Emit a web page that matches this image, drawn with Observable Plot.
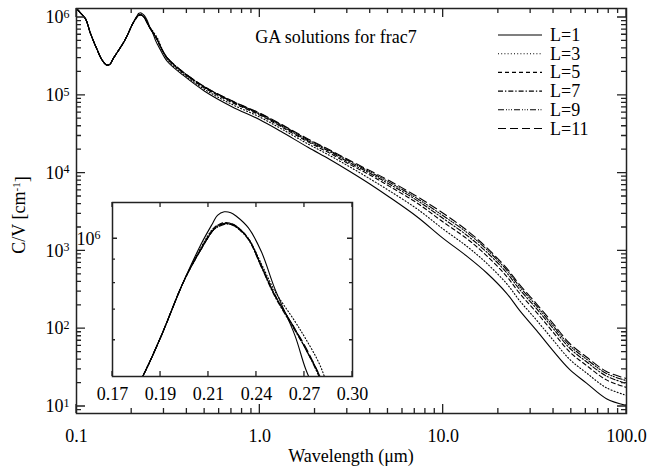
<!DOCTYPE html>
<html><head><meta charset="utf-8">
<script src="https://cdn.jsdelivr.net/npm/d3@7"></script>
<script src="https://cdn.jsdelivr.net/npm/@observablehq/plot@0.6"></script>
<style>
body{margin:0;background:#fff}
#wrap{position:relative;width:663px;height:466px}
#wrap > svg{position:absolute;overflow:visible}
#ticks{position:absolute;left:0;top:0;width:663px;height:466px;z-index:10;pointer-events:none}
</style>
</head><body><div id="wrap"></div>
<script>
// ---- data ----
const wavelength = [0.100,0.105,0.112,0.119,0.125,0.130,0.135,0.140,0.146,0.152,0.159,0.166,0.174,0.1826,0.1906,0.2014,
  0.2098,0.2155,0.218,0.2215,0.225,0.228,0.2346,0.242,0.2496,0.2619,0.2686,0.2773,0.285,0.313,0.383,0.5,0.7,1.0,1.3,1.83,2.41,3.1,4.0,5.1,7.2,10,13.5,17.3,22.2,26.1,32.3,39.5,48.9,60.5,77.7,100];
// first 16 points: all solutions coincide
const sharedUV = [1.30e6,1.15e6,9.6e5,6.3e5,4.7e5,3.8e5,3.1e5,2.7e5,2.45e5,2.5e5,3.0e5,3.5e5,4.15e5,5.0e5,6.1e5,8.1e5];
const tailL1  = [9.75e5,1.08e6,1.125e6,1.145e6,1.14e6,1.12e6,1.056e6,9.35e5,7.8e5,6.15e5,5.2e5,4.45e5,3.95e5,2.72e5,1.8e5,1.13e5,7.2e4,4.85e4,3.45e4,2.15e4,1.5e4,1.05e4,7.2e3,4.9e3,2.75e3,1.45e3,850,520,285,172,95,53,30,20,12.6,10.3];
const tailL3  = [9.6e5,1.05e6,1.07e6,1.08e6,1.075e6,1.06e6,1.0e6,8.8e5,7.7e5,6.6e5,6.05e5,5.35e5,4.6e5,2.88e5,1.87e5,1.19e5,7.7e4,5.25e4,3.75e4,2.37e4,1.68e4,1.2e4,8.4e3,5.9e3,3.47e3,1.91e3,1.14e3,692,379,230,129,73,40.5,27,17.4,13.9];
const tailL5  = [9.55e5,1.045e6,1.07e6,1.085e6,1.08e6,1.065e6,1.0e6,8.7e5,7.55e5,6.35e5,5.75e5,5.05e5,4.35e5,2.97e5,1.94e5,1.24e5,8.15e4,5.55e4,3.97e4,2.52e4,1.8e4,1.29e4,9.4e3,6.75e3,4.13e3,2.35e3,1.43e3,863,470,286,162,92,50.5,33.7,22.0,17.6];
const tailL7  = [9.5e5,1.04e6,1.065e6,1.08e6,1.075e6,1.06e6,0.995e6,8.65e5,7.5e5,6.3e5,5.75e5,5.0e5,4.35e5,3.0e5,1.96e5,1.27e5,8.35e4,5.7e4,4.1e4,2.6e4,1.88e4,1.35e4,9.9e3,7.2e3,4.46e3,2.61e3,1.58e3,962,524,320,181,103,56.5,37.6,24.6,19.8];
const tailL9  = [9.5e5,1.04e6,1.06e6,1.075e6,1.075e6,1.06e6,1.0e6,8.7e5,7.55e5,6.35e5,5.75e5,5.05e5,4.37e5,3.02e5,1.98e5,1.28e5,8.5e4,5.8e4,4.2e4,2.69e4,1.94e4,1.41e4,1.03e4,7.6e3,4.73e3,2.83e3,1.72e3,1.04e3,567,347,196,111,61,40.6,26.6,21.5];
const tailL11 = [9.5e5,1.04e6,1.065e6,1.08e6,1.08e6,1.065e6,1.0e6,8.7e5,7.55e5,6.35e5,5.8e5,5.05e5,4.4e5,3.05e5,1.98e5,1.29e5,8.55e4,5.9e4,4.28e4,2.75e4,1.98e4,1.45e4,1.07e4,7.95e3,5.0e3,3.05e3,1.83e3,1.1e3,599,368,209,119,65,43.3,28.2,22.9];
const seriesNames = ["L=1","L=3","L=5","L=7","L=9","L=11"];
const seriesTails = [tailL1,tailL3,tailL5,tailL7,tailL9,tailL11];

const xMajorTicks = [0.1,1,10,100];
const xMajorLabels = ["0.1","1.0","10.0","100.0"];
const xMinorTicks = [0.2,0.3,0.4,0.5,0.6,0.7,0.8,0.9,2,3,4,5,6,7,8,9,20,30,40,50,60,70,80,90];
const yMajorTicks = [10,100,1e3,1e4,1e5,1e6];
const yMinorTicks = [9,20,30,40,50,60,70,80,90,200,300,400,500,600,700,800,900,2e3,3e3,4e3,5e3,6e3,7e3,8e3,9e3,2e4,3e4,4e4,5e4,6e4,7e4,8e4,9e4,2e5,3e5,4e5,5e5,6e5,7e5,8e5,9e5];
const insetXTicks = [0.170,0.1905,0.2134,0.2391,0.2679,0.3002];
const insetXLabels = ["0.17","0.19","0.21","0.24","0.27","0.30"];
const insetYMajor = [1e6];
const insetYMinor = [6e5,7e5,8e5,9e5];
const titleText = "GA solutions for frac7";
const xTitle = "Wavelength (\u03bcm)";

// ---- styles ----
const dashStyles = [null,"1,2.2","4,3","5,2,1.3,2","6,2,1,1.5,1,1.5,1,2","8,4"];
const FONT = "Liberation Serif";
const FS = 18;
const AX = "#222";

const rows = seriesNames.map((name, s) =>
  wavelength.map((lam, i) => ({name, lam, v: i < sharedUV.length ? sharedUV[i] : seriesTails[s][i - sharedUV.length]})));

const xLabelMap = new Map(xMajorTicks.map((t, i) => [t, xMajorLabels[i]]));
const insetLabelMap = new Map(insetXTicks.map((t, i) => [t, insetXLabels[i]]));

function supFix(svg, supSize) {
  d3.select(svg).selectAll("text").each(function() {
    const t = this.textContent;
    if (!t.includes("^")) return;
    const [b, e] = t.split("^");
    const sel = d3.select(this);
    sel.text(null);
    sel.append("tspan").text(b);
    sel.append("tspan").attr("dy", "-0.45em").attr("font-size", supSize).text(e);
  });
}

const lineMarks = () => rows.map((r, s) => Plot.line(r, {x: "lam", y: "v", curve: "catmull-rom",
  stroke: "#000", strokeWidth: 1.1, strokeDasharray: dashStyles[s], clip: true}));

const wrap = document.getElementById("wrap");

const main = Plot.plot({
  width: 663, height: 466,
  marginTop: 8, marginRight: 37, marginBottom: 53, marginLeft: 76,
  x: {type: "log", domain: [0.1, 100]},
  y: {type: "log", domain: [8.13, 1.305e6]},
  style: {fontFamily: FONT, fontSize: FS + "px", color: "#000", background: "transparent"},
  marks: [
    ...lineMarks(),
    Plot.axisX({anchor: "bottom", ticks: xMajorTicks, tickSize: 0, tickPadding: 16, tickFormat: d => xLabelMap.get(d), label: null, fontSize: FS}),
    Plot.axisY({anchor: "left", ticks: yMajorTicks, tickSize: 0, tickPadding: 7, tickFormat: d => "10^" + Math.round(Math.log10(d)), label: null, fontSize: FS}),
    Plot.frame({stroke: AX, strokeWidth: 1.5})
  ]
});
main.style.left = "0px"; main.style.top = "0px";
wrap.appendChild(main);
supFix(main, "12px");

// extra texts: title, legend, axis titles
const ms = d3.select(main);
ms.append("text").attr("x", 336).attr("y", 43).attr("text-anchor", "middle")
  .attr("font-family", FONT).attr("font-size", FS).text(titleText);
ms.append("text").attr("x", 351).attr("y", 462).attr("text-anchor", "middle")
  .attr("font-family", FONT).attr("font-size", FS).text(xTitle);
const yTitle = ms.append("text").attr("transform", "translate(25,215) rotate(-90)").attr("text-anchor", "middle")
  .attr("font-family", FONT).attr("font-size", FS);
yTitle.append("tspan").text("C/V [cm");
yTitle.append("tspan").attr("dy", "-0.45em").attr("font-size", 11).text("-1");
yTitle.append("tspan").attr("dy", "0.45em").text("]");
const lg = ms.append("g");
seriesNames.forEach((name, s) => {
  const y = 35 + s * 18.7;
  lg.append("line").attr("x1", 498).attr("x2", 542).attr("y1", y).attr("y2", y)
    .attr("stroke", "#000").attr("stroke-width", 1.1).attr("stroke-dasharray", dashStyles[s]);
  lg.append("text").attr("x", 550).attr("y", y + 6).attr("text-anchor", "start")
    .attr("font-family", FONT).attr("font-size", FS).text(name);
});

// inset
const INSET_LEFT = 72, INSET_TOP = 200;
const inset = Plot.plot({
  width: 290, height: 206,
  marginTop: 2, marginRight: 10, marginBottom: 30, marginLeft: 40,
  x: {type: "log", domain: [0.17, 0.3002]},
  y: {type: "log", domain: [5e5, 1.2e6]},
  style: {fontFamily: FONT, fontSize: FS + "px", color: "#000", background: "transparent"},
  marks: [
    ...lineMarks(),
    Plot.axisX({anchor: "bottom", ticks: insetXTicks, tickSize: 0, tickPadding: 11, tickFormat: d => insetLabelMap.get(d), label: null, fontSize: FS}),
    Plot.axisY({anchor: "left", ticks: insetYMajor, tickSize: 0, tickPadding: 12, tickFormat: d => "10^" + Math.round(Math.log10(d)), label: null, fontSize: FS}),
    Plot.frame({stroke: AX, strokeWidth: 1.5})
  ]
});
inset.style.left = INSET_LEFT + "px"; inset.style.top = INSET_TOP + "px";
wrap.appendChild(inset);
supFix(inset, "12px");

// inward ticks on all four sides: separate top overlay, positions from the plots' own scales
const overlay = d3.select(wrap).append("svg").attr("id", "ticks")
  .attr("width", 663).attr("height", 466).attr("viewBox", "0 0 663 466");
function addTicks(fig, ox, oy, xt, yt, size) {
  const sx = fig.scale("x"), sy = fig.scale("y");
  const fx = d3.scaleLog().domain(sx.domain).range(sx.range);
  const fy = d3.scaleLog().domain(sy.domain).range(sy.range);
  const x0 = Math.min(...sx.range) + ox, x1 = Math.max(...sx.range) + ox;
  const y0 = Math.max(...sy.range) + oy, y1 = Math.min(...sy.range) + oy;
  let d = "";
  xt.forEach(v => { const x = fx(v) + ox; d += `M${x},${y0}V${y0 - size}M${x},${y1}V${y1 + size}`; });
  yt.forEach(v => { const y = fy(v) + oy; d += `M${x0},${y}H${x0 + size}M${x1},${y}H${x1 - size}`; });
  overlay.append("path").attr("d", d).attr("fill", "none").attr("stroke", AX).attr("stroke-width", 1.3);
}
addTicks(main, 0, 0, xMajorTicks, yMajorTicks, 9);
addTicks(main, 0, 0, xMinorTicks, yMinorTicks, 5);
addTicks(inset, INSET_LEFT, INSET_TOP, insetXTicks, insetYMajor, 5);
addTicks(inset, INSET_LEFT, INSET_TOP, [], insetYMinor, 3);
</script>
</body></html>
